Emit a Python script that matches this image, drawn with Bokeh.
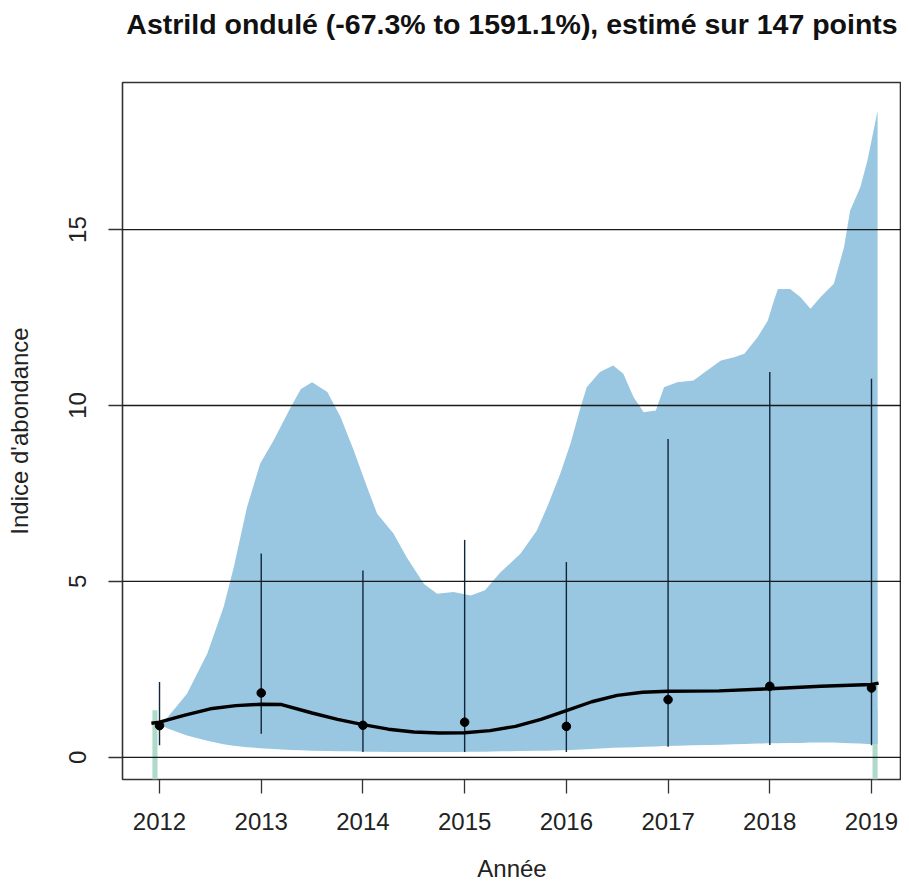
from bokeh.plotting import figure
from bokeh.models import Range1d, FixedTicker, Span, LinearAxis
from bokeh.embed import file_html
from bokeh.resources import INLINE

title_text = "Astrild ondulé (-67.3% to 1591.1%), estimé sur 147 points"
x_label = "Année"
y_label = "Indice d'abondance"

years = [2012, 2013, 2014, 2015, 2016, 2017, 2018, 2019]
index_vals = [0.90, 1.83, 0.91, 1.00, 0.88, 1.64, 2.02, 1.97]
err_low = [0.34, 0.67, 0.15, 0.15, 0.15, 0.30, 0.35, 0.34]
err_high = [2.14, 5.79, 5.31, 6.18, 5.55, 9.05, 10.95, 10.76]

band_x = [2012.0, 2012.08, 2012.27, 2012.47, 2012.63, 2012.73, 2012.86, 2012.99, 2013.12, 2013.29,
          2013.39, 2013.50, 2013.65, 2013.78, 2013.91, 2014.04, 2014.14, 2014.30, 2014.43, 2014.60,
          2014.73, 2014.89, 2015.06, 2015.20, 2015.35, 2015.55, 2015.71, 2015.81, 2015.94, 2016.04,
          2016.14, 2016.20, 2016.33, 2016.46, 2016.56, 2016.66, 2016.76, 2016.88, 2016.96, 2017.09,
          2017.25, 2017.38, 2017.52, 2017.65, 2017.75, 2017.88, 2017.98, 2018.04, 2018.08, 2018.20,
          2018.30, 2018.40, 2018.50, 2018.63, 2018.73, 2018.79, 2018.89, 2018.96, 2019.06]
band_upper = [0.97, 1.14, 1.81, 2.95, 4.27, 5.40, 7.11, 8.35, 9.00, 9.95,
              10.47, 10.66, 10.38, 9.67, 8.72, 7.68, 6.92, 6.36, 5.69, 4.93,
              4.65, 4.70, 4.60, 4.75, 5.25, 5.79, 6.45, 7.11, 8.06, 8.91,
              9.95, 10.52, 10.95, 11.14, 10.90, 10.24, 9.81, 9.86, 10.52, 10.66,
              10.71, 10.99, 11.28, 11.37, 11.47, 11.94, 12.41, 12.98, 13.31, 13.31,
              13.08, 12.75, 13.08, 13.46, 14.50, 15.54, 16.20, 16.96, 18.38]
band_lower = [0.95, 0.82, 0.62, 0.47, 0.37, 0.33, 0.29, 0.26, 0.24, 0.21,
              0.20, 0.19, 0.18, 0.17, 0.17, 0.16, 0.16, 0.15, 0.15, 0.15,
              0.15, 0.15, 0.16, 0.16, 0.17, 0.18, 0.19, 0.19, 0.20, 0.21,
              0.22, 0.23, 0.25, 0.27, 0.28, 0.29, 0.30, 0.31, 0.32, 0.33,
              0.34, 0.35, 0.36, 0.37, 0.38, 0.39, 0.40, 0.40, 0.40, 0.41,
              0.41, 0.42, 0.42, 0.42, 0.41, 0.40, 0.39, 0.38, 0.38]

curve_x = [2011.92, 2012.0, 2012.25, 2012.5, 2012.75, 2013.0, 2013.2, 2013.5, 2013.75, 2014.0,
           2014.25, 2014.5, 2014.75, 2015.0, 2015.25, 2015.5, 2015.75, 2016.0, 2016.25, 2016.5,
           2016.75, 2017.0, 2017.5, 2018.0, 2018.5, 2019.0, 2019.07]
curve_y = [0.97, 1.00, 1.20, 1.38, 1.47, 1.51, 1.50, 1.26, 1.08, 0.93,
           0.80, 0.72, 0.69, 0.70, 0.76, 0.88, 1.08, 1.33, 1.58, 1.76,
           1.85, 1.88, 1.89, 1.95, 2.02, 2.07, 2.11]

marker_x = [2011.955, 2019.035]
marker_top = [1.34, 1.34]

y_ticks = [0, 5, 10, 15]

FONT = "Liberation Sans"
Y_MIN = -0.63
Y_MAX = 19.18
X_MIN = 2011.636
X_MAX = 2019.295

p = figure(width=901, height=885, output_backend="svg", toolbar_location=None,
           x_range=Range1d(X_MIN, X_MAX), y_range=Range1d(Y_MIN, Y_MAX),
           min_border_left=122, min_border_right=0, min_border_top=82, min_border_bottom=106)

p.outline_line_color = "#333333"
p.outline_line_width = 1.6
p.xgrid.visible = False
p.ygrid.visible = False

# title drawn as the label of an empty axis above the frame
top_axis = LinearAxis(ticker=FixedTicker(ticks=[]), axis_line_color=None,
                      major_tick_line_color=None, minor_tick_line_color=None,
                      major_label_text_font_size="0px")
top_axis.axis_label = title_text
top_axis.axis_label_text_font = FONT
top_axis.axis_label_text_font_size = "28.5px"
top_axis.axis_label_text_font_style = "bold"
top_axis.axis_label_text_color = "#111111"
top_axis.axis_label_standoff = 43
p.add_layout(top_axis, "above")

# teal markers at first/last years
p.vbar(x=marker_x, top=marker_top, bottom=Y_MIN, width=0.05,
       fill_color="#aedbc9", line_color=None)

# confidence band
p.varea(x=band_x, y1=band_lower, y2=band_upper, fill_color="#99c6e0", fill_alpha=1.0)

# horizontal reference lines over the band
for t in y_ticks:
    p.add_layout(Span(location=t, dimension="width", line_color="#1a1a1a", line_width=1.3))

# error bars
p.segment(x0=years, y0=err_low, x1=years, y1=err_high, line_color="#10263a", line_width=1.4)

# smooth trend
p.line(curve_x, curve_y, line_color="black", line_width=3.4)

# yearly indices
p.scatter(years, index_vals, size=8.5, fill_color="black", line_color="black")

for ax in (p.below[0], p.left[0]):
    ax.axis_line_color = None
    ax.major_tick_line_color = "#333333"
    ax.major_tick_line_width = 1.3
    ax.major_tick_in = 0
    ax.major_tick_out = 14
    ax.minor_tick_line_color = None
    ax.major_label_text_font = FONT
    ax.major_label_text_font_size = "24px"
    ax.major_label_text_color = "#222222"
    ax.axis_label_text_font = FONT
    ax.axis_label_text_font_size = "24px"
    ax.axis_label_text_font_style = "normal"
    ax.axis_label_text_color = "#222222"

xax = p.below[0]
xax.ticker = FixedTicker(ticks=years)
xax.major_label_standoff = 19
xax.axis_label = x_label
xax.axis_label_standoff = 22

yax = p.left[0]
yax.ticker = FixedTicker(ticks=y_ticks)
yax.major_label_orientation = "vertical"
yax.major_label_standoff = 22
yax.axis_label = y_label
yax.axis_label_standoff = 34

open("out.html", "w").write(file_html(p, INLINE))
